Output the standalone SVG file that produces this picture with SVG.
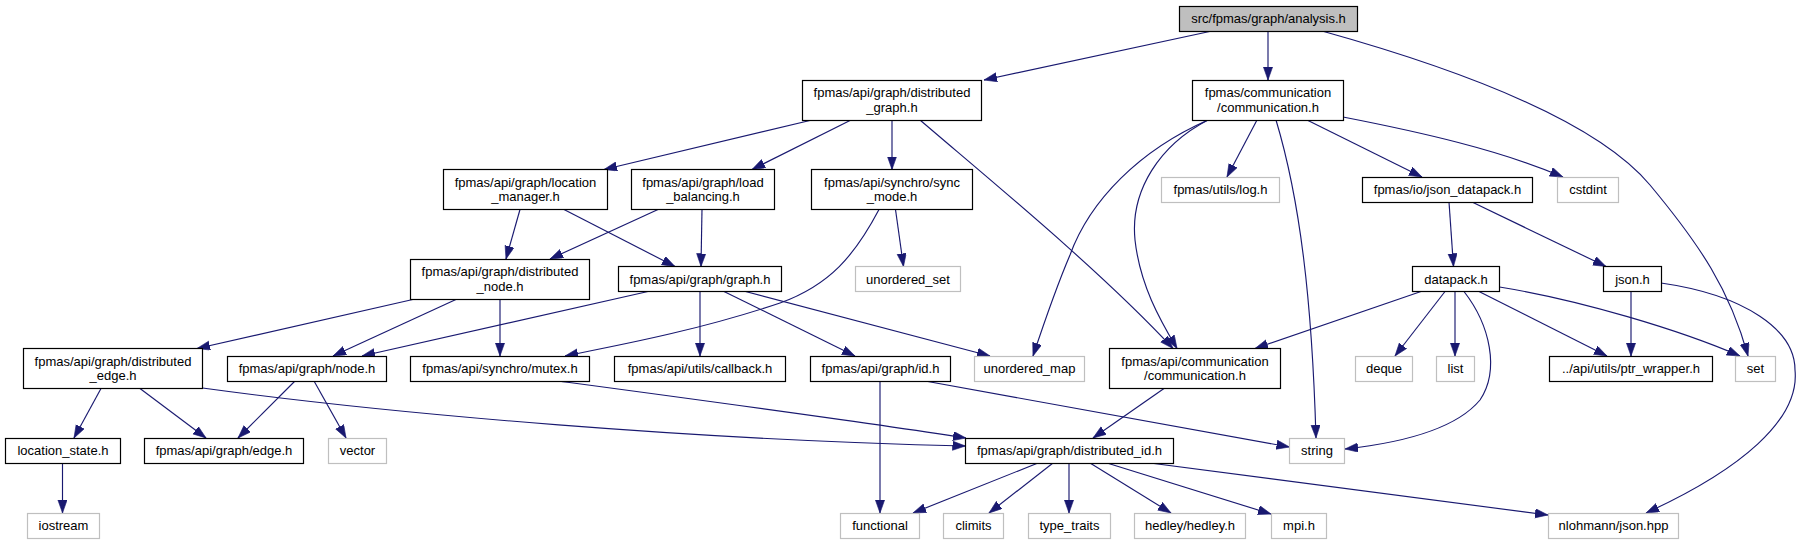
<svg xmlns="http://www.w3.org/2000/svg" width="1802" height="544" viewBox="0 0 1802 544">
<defs>
<marker id="ah" markerUnits="userSpaceOnUse" markerWidth="14" markerHeight="10" refX="13" refY="4.6" orient="auto">
<path d="M0,0 L13,4.6 L0,9.2 z" fill="#191970" stroke="#191970" stroke-width="0.6"/>
</marker>
<style>
rect.n{fill:#ffffff;stroke:#000000;stroke-width:1.2}
rect.x{fill:#ffffff;stroke:#bfbfbf;stroke-width:1.2}
rect.r{fill:#bfbfbf;stroke:#000000;stroke-width:1.2}
text{font-family:"Liberation Sans",Arial,Helvetica,sans-serif;font-size:13px;fill:#000000;text-anchor:middle}
#edges path{fill:none;stroke:#191970;stroke-width:1.15;marker-end:url(#ah)}
</style>
</defs>
<rect width="1802" height="544" fill="#ffffff"/>
<g id="edges">
<path d="M1212,31 L984,80"/>
<path d="M1268,31 L1268,80"/>
<path d="M1322,31 C1480,75 1600,125 1650,185 C1700,245 1730,290 1748,356"/>
<path d="M812,120 L604,169.5"/>
<path d="M851,120 L752,169.5"/>
<path d="M892,120 L892,169.5"/>
<path d="M920,120 C990,180 1100,270 1173,348.5"/>
<path d="M1208,120 C1140,150 1090,200 1070,255 C1055,290 1045,320 1033,356"/>
<path d="M1208,120 C1160,145 1130,190 1135,240 C1140,285 1160,320 1177,348.5"/>
<path d="M1257,120 L1227,177"/>
<path d="M1276,120 C1300,200 1312,300 1316,438"/>
<path d="M1307,120 L1422,177"/>
<path d="M1343,117 C1420,132 1500,150 1563,177"/>
<path d="M520,209.5 L506,259"/>
<path d="M564,209.5 L675,266.5"/>
<path d="M658,209.5 L550,259"/>
<path d="M702,209.5 L701,266.5"/>
<path d="M895.5,209.5 L903.5,266.5"/>
<path d="M879,209.5 C855,255 830,285 780,303 C700,330 620,345 565,356"/>
<path d="M1449,202 L1453.5,266.5"/>
<path d="M1472,202 L1606,266.5"/>
<path d="M415,299 L197,348.5"/>
<path d="M457,299 L333,356"/>
<path d="M500,299 L500,356"/>
<path d="M648,291.5 L362,356"/>
<path d="M700,291.5 L700,356"/>
<path d="M724,291.5 L855,356"/>
<path d="M745.5,291.5 L990,356"/>
<path d="M1421,291.5 L1255,348.5"/>
<path d="M1445,291.5 L1395,356"/>
<path d="M1455,291.5 L1455,356"/>
<path d="M1464,291.5 C1490,325 1500,370 1480,400 C1455,430 1400,443 1345,449"/>
<path d="M1479,291.5 L1607,356"/>
<path d="M1499.5,287 C1580,300 1680,330 1740,356"/>
<path d="M1631,291.5 L1631,356"/>
<path d="M1661,283 C1745,295 1795,330 1795,370 C1800,420 1740,470 1646,513"/>
<path d="M101,388.5 L74,438"/>
<path d="M140,388.5 L206,438"/>
<path d="M202.5,388 C400,415 700,440 965.5,446"/>
<path d="M295,381 L238,438"/>
<path d="M314,381 L346,438"/>
<path d="M558,381 C700,400 850,420 966,438"/>
<path d="M880,381 L880,513"/>
<path d="M925,381 L1289.5,447"/>
<path d="M1164,388.5 L1093,438"/>
<path d="M62.5,463 L62.5,513"/>
<path d="M1038,463 L913,513"/>
<path d="M1053,463 L989,513"/>
<path d="M1069,463 L1069,513"/>
<path d="M1090,463 L1171,513"/>
<path d="M1107,463 L1271,514"/>
<path d="M1150,463 L1548,515"/>
</g>
<g id="root"><rect class="r" x="1179.5" y="6.5" width="178" height="25"/><text x="1268.5" y="23">src/fpmas/graph/analysis.h</text></g>
<g id="distributed_graph"><rect class="n" x="802.5" y="80.5" width="179" height="40"/><text x="892" y="97">fpmas/api/graph/distributed</text><text x="892" y="111.5">_graph.h</text></g>
<g id="communication"><rect class="n" x="1192.5" y="80.5" width="151" height="40"/><text x="1268" y="97">fpmas/communication</text><text x="1268" y="111.5">/communication.h</text></g>
<g id="location_manager"><rect class="n" x="443.5" y="169.5" width="164" height="40"/><text x="525.5" y="186.5">fpmas/api/graph/location</text><text x="525.5" y="201">_manager.h</text></g>
<g id="load_balancing"><rect class="n" x="631.5" y="169.5" width="143" height="40"/><text x="703" y="186.5">fpmas/api/graph/load</text><text x="703" y="201">_balancing.h</text></g>
<g id="sync_mode"><rect class="n" x="811.5" y="169.5" width="161" height="40"/><text x="892" y="186.5">fpmas/api/synchro/sync</text><text x="892" y="201">_mode.h</text></g>
<g id="log"><rect class="x" x="1161.5" y="177.5" width="118" height="25"/><text x="1220.5" y="194">fpmas/utils/log.h</text></g>
<g id="json_datapack"><rect class="n" x="1362.5" y="177.5" width="170" height="25"/><text x="1447.5" y="194">fpmas/io/json_datapack.h</text></g>
<g id="cstdint"><rect class="x" x="1557.5" y="177.5" width="61" height="25"/><text x="1588" y="194">cstdint</text></g>
<g id="distributed_node"><rect class="n" x="410.5" y="259.5" width="179" height="40"/><text x="500" y="276">fpmas/api/graph/distributed</text><text x="500" y="290.5">_node.h</text></g>
<g id="graph"><rect class="n" x="618.5" y="266.5" width="163" height="25"/><text x="700" y="283.5">fpmas/api/graph/graph.h</text></g>
<g id="unordered_set"><rect class="x" x="855.5" y="266.5" width="105" height="25"/><text x="908" y="283.5">unordered_set</text></g>
<g id="datapack"><rect class="n" x="1412.5" y="266.5" width="87" height="25"/><text x="1456" y="283.5">datapack.h</text></g>
<g id="json"><rect class="n" x="1603.5" y="266.5" width="58" height="25"/><text x="1632.5" y="283.5">json.h</text></g>
<g id="distributed_edge"><rect class="n" x="23.5" y="348.5" width="179" height="40"/><text x="113" y="365.5">fpmas/api/graph/distributed</text><text x="113" y="380">_edge.h</text></g>
<g id="node"><rect class="n" x="227.5" y="356.5" width="159" height="25"/><text x="307" y="373">fpmas/api/graph/node.h</text></g>
<g id="mutex"><rect class="n" x="410.5" y="356.5" width="179" height="25"/><text x="500" y="373">fpmas/api/synchro/mutex.h</text></g>
<g id="callback"><rect class="n" x="614.5" y="356.5" width="171" height="25"/><text x="700" y="373">fpmas/api/utils/callback.h</text></g>
<g id="id"><rect class="n" x="810.5" y="356.5" width="140" height="25"/><text x="880.5" y="373">fpmas/api/graph/id.h</text></g>
<g id="unordered_map"><rect class="x" x="974.5" y="356.5" width="110" height="25"/><text x="1029.5" y="373">unordered_map</text></g>
<g id="api_communication"><rect class="n" x="1109.5" y="348.5" width="171" height="40"/><text x="1195" y="365.5">fpmas/api/communication</text><text x="1195" y="380">/communication.h</text></g>
<g id="deque"><rect class="x" x="1355.5" y="356.5" width="57" height="25"/><text x="1384" y="373">deque</text></g>
<g id="list"><rect class="x" x="1436.5" y="356.5" width="38" height="25"/><text x="1455.5" y="373">list</text></g>
<g id="ptr_wrapper"><rect class="n" x="1549.5" y="356.5" width="163" height="25"/><text x="1631" y="373">../api/utils/ptr_wrapper.h</text></g>
<g id="set"><rect class="x" x="1735.5" y="356.5" width="40" height="25"/><text x="1755.5" y="373">set</text></g>
<g id="location_state"><rect class="n" x="5.5" y="438.5" width="115" height="25"/><text x="63" y="455">location_state.h</text></g>
<g id="edge"><rect class="n" x="144.5" y="438.5" width="159" height="25"/><text x="224" y="455">fpmas/api/graph/edge.h</text></g>
<g id="vector"><rect class="x" x="328.5" y="438.5" width="58" height="25"/><text x="357.5" y="455">vector</text></g>
<g id="distributed_id"><rect class="n" x="965.5" y="438.5" width="208" height="25"/><text x="1069.5" y="455">fpmas/api/graph/distributed_id.h</text></g>
<g id="string"><rect class="x" x="1289.5" y="438.5" width="55" height="25"/><text x="1317" y="455">string</text></g>
<g id="iostream"><rect class="x" x="27.5" y="513.5" width="72" height="25"/><text x="63.5" y="530">iostream</text></g>
<g id="functional"><rect class="x" x="840.5" y="513.5" width="79" height="25"/><text x="880" y="530">functional</text></g>
<g id="climits"><rect class="x" x="943.5" y="513.5" width="60" height="25"/><text x="973.5" y="530">climits</text></g>
<g id="type_traits"><rect class="x" x="1028.5" y="513.5" width="82" height="25"/><text x="1069.5" y="530">type_traits</text></g>
<g id="hedley"><rect class="x" x="1134.5" y="513.5" width="111" height="25"/><text x="1190" y="530">hedley/hedley.h</text></g>
<g id="mpi"><rect class="x" x="1271.5" y="513.5" width="55" height="25"/><text x="1299" y="530">mpi.h</text></g>
<g id="nlohmann"><rect class="x" x="1548.5" y="513.5" width="130" height="25"/><text x="1613.5" y="530">nlohmann/json.hpp</text></g>
</svg>
